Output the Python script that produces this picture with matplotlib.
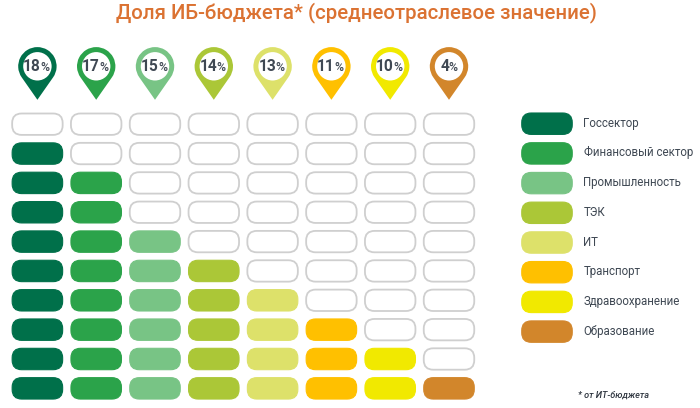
import numpy as np
import matplotlib
matplotlib.use('Agg')
import matplotlib.pyplot as plt
from matplotlib.patches import FancyBboxPatch, Circle, PathPatch
from matplotlib.path import Path

plt.rcParams['font.family'] = ['Roboto', 'DejaVu Sans']

# ===== DATA =====
sectors = ['Госсектор', 'Финансовый сектор', 'Промышленность', 'ТЭК', 'ИТ',
           'Транспорт', 'Здравоохранение', 'Образование']
shares = [18, 17, 15, 14, 13, 11, 10, 4]
filled_cells = [9, 8, 6, 5, 4, 3, 2, 1]
colors = ['#00704A', '#2BA34A', '#78C485', '#ABC737', '#DDE16A', '#FFC000', '#F1E900', '#D2862B']
title = 'Доля ИБ-бюджета* (среднеотраслевое значение)'
footnote = '* от ИТ-бюджета'

# ===== LAYOUT (pixels) =====
N_ROWS = 10
COL_X = 37.4
COL_STEP = 58.8
ROW_Y = 124.2
ROW_STEP = 29.35
LEGEND_Y = 123.7
LEGEND_STEP = 29.7
CELL_W = 50.5
CELL_H = 21.4
LEGEND_X = 547
TEXT_COLOR = '#3F4853'


def pill(ax, cx, cy, face, edge, lw=0.0):
    ax.add_patch(FancyBboxPatch((cx - CELL_W / 2 + 8, cy - CELL_H / 2 + 8), CELL_W - 16, CELL_H - 16,
                                boxstyle='round,pad=8,rounding_size=9.5',
                                facecolor=face, edgecolor=edge, linewidth=lw))


def pin(ax, cx, cy, r, tip, color):
    # teardrop: arc over the top, then straight down to the tip
    ang = np.degrees(np.arcsin(r / tip))
    arc = Path.arc(-ang, 180 + ang)
    verts = arc.vertices * r + [cx, cy]
    verts[:, 1] = cy - (verts[:, 1] - cy)
    verts = np.vstack([verts, [cx, cy + tip], verts[0]])
    codes = list(arc.codes) + [Path.LINETO, Path.CLOSEPOLY]
    ax.add_patch(PathPatch(Path(verts, codes), facecolor=color, edgecolor='none'))
    ax.add_patch(Circle((cx, cy), r * 0.74, facecolor='white', edgecolor='none'))


fig = plt.figure(figsize=(7, 4.08), dpi=100)
ax = fig.add_axes([0, 0, 1, 1])
ax.set_xlim(0, 700)
ax.set_ylim(408, 0)
ax.axis('off')

ax.text(356.5, 13, title, ha='center', va='center', fontsize=14.65, fontweight='medium', color='#DB7232')

# ===== COLUMNS =====
for i, (share, n, color) in enumerate(zip(shares, filled_cells, colors)):
    cx = COL_X + i * COL_STEP
    pin(ax, cx, 66.3, 19.2, 33.5, color)
    split = cx + (3.0 if share >= 10 else -0.5)
    ax.text(split + 0.5, 66.5, str(share), ha='right', va='center', fontsize=11.2, fontweight='bold', color=TEXT_COLOR)
    ax.text(split, 67.3, '%', ha='left', va='center', fontsize=8.8, fontweight='medium', color=TEXT_COLOR)
    for row in range(N_ROWS):
        cy = ROW_Y + row * ROW_STEP
        if row >= N_ROWS - n:
            pill(ax, cx, cy, color, color, 0.8)
        else:
            pill(ax, cx, cy, 'white', '#CFCFCF', 1.3)

# ===== LEGEND =====
for row, (name, color) in enumerate(zip(sectors, colors)):
    cy = LEGEND_Y + row * LEGEND_STEP
    pill(ax, LEGEND_X, cy, color, color, 0.8)
    ax.text(583.5, cy - 0.5, name, ha='left', va='center', fontsize=8.3, color=TEXT_COLOR)

ax.text(578, 395, footnote, ha='left', va='center', fontsize=6.6, fontstyle='italic', fontweight='medium', color='#2F3640')

fig.savefig('out.png', dpi=100)
